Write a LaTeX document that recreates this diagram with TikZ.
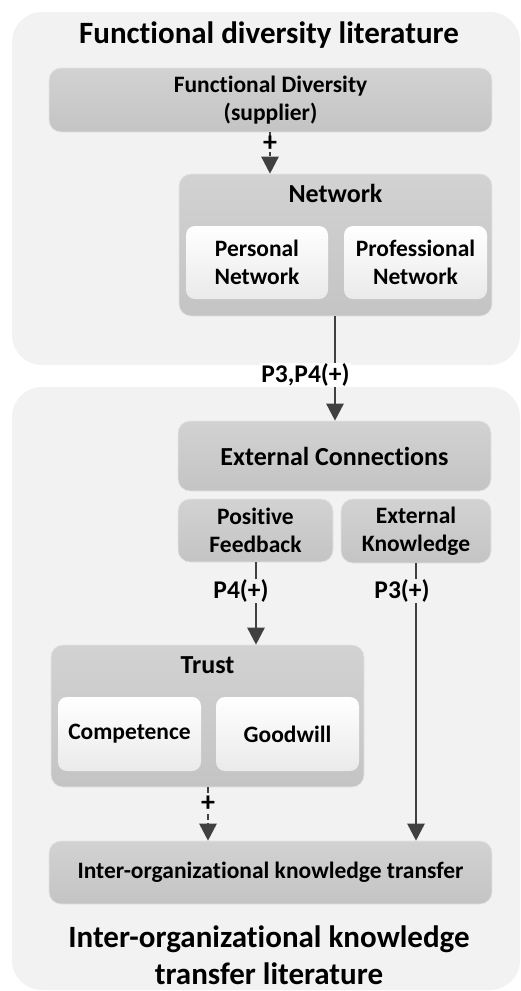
\documentclass[tikz,border=0pt]{standalone}
\usepackage{fontspec}
\setmainfont{Carlito}[Ligatures={NoCommon,NoRare,NoContextual}]
\usetikzlibrary{arrows.meta}
\definecolor{panelgray}{HTML}{F2F2F2}
\definecolor{boxtop}{HTML}{D2D2D2}
\definecolor{boxbot}{HTML}{C4C4C4}
\definecolor{innerbot}{HTML}{EAEAEA}
\definecolor{linkgray}{HTML}{404040}
\tikzset{
  panel/.style={fill=panelgray, rounded corners=30pt},
  graybox/.style={rounded corners=12pt, top color=boxtop, bottom color=boxbot,
    draw=white!40!boxtop, line width=0.6pt, inner sep=0pt, align=center},
  whitebox/.style={rounded corners=9pt, top color=white, bottom color=innerbot,
    draw=none, inner sep=0pt, align=center},
  boxtext/.style={font=\bfseries\fontsize{23.5}{28}\selectfont},
  headtext/.style={font=\bfseries\fontsize{26}{30}\selectfont},
  title/.style={align=center, font=\bfseries\fontsize{31}{37}\selectfont},
  link/.style={draw=linkgray, line width=2.5pt, -{Triangle[width=17pt,length=17pt]}},
  dashlink/.style={link, dash pattern=on 6pt off 3pt},
  plabel/.style={fill=#1, inner sep=1pt, font=\bfseries\fontsize{25.5}{28}\selectfont},
  plabel/.default=panelgray,
  plussign/.style={fill=panelgray, inner sep=0pt, font=\bfseries\fontsize{28}{28}\selectfont}
}
\begin{document}
\begin{tikzpicture}[x=1pt,y=-1pt]
\useasboundingbox (0,0) rectangle (521,991);

% literature panels
\fill[panel] (12,12) rectangle (520,365);
\fill[panel] (12,387) rectangle (520,990);
\node[title] (toptitle) at (269,35) {Functional diversity literature};
\node[title] (bottitle) at (269,955) {Inter-organizational knowledge\\transfer literature};

% functional diversity side
\node[graybox, boxtext, minimum width=443pt, minimum height=64pt] (fd) at (270.5,100)
  {Functional Diversity\\(supplier)};
\node[graybox, minimum width=313pt, minimum height=142pt] (net) at (335.5,245) {};
\node[headtext] (nettitle) at (335.5,193) {Network};
\node[whitebox, boxtext, minimum width=142pt, minimum height=73pt] (pers) at (257,262.5)
  {Personal\\Network};
\node[whitebox, boxtext, minimum width=143pt, minimum height=73pt] (prof) at (415.5,262.5)
  {Professional\\Network};

% knowledge transfer side
\node[graybox, headtext, minimum width=313pt, minimum height=70pt] (ec) at (334.5,456)
  {External Connections};
\node[graybox, boxtext, minimum width=155pt, minimum height=63pt] (pf) at (255.5,530.5)
  {Positive\\Feedback};
\node[graybox, boxtext, minimum width=150pt, minimum height=64pt] (ek) at (416,531)
  {External\\Knowledge};
\node[graybox, minimum width=313pt, minimum height=142pt] (trust) at (207.5,716) {};
\node[headtext] (trusttitle) at (207.5,665) {Trust};
\node[whitebox, boxtext, minimum width=143pt, minimum height=74pt] (comp) at (129.5,734)
  {Competence};
\node[whitebox, boxtext, minimum width=143pt, minimum height=74pt] (good) at (287.5,734)
  {Goodwill};
\node[graybox, boxtext, minimum width=443pt, minimum height=63pt] (ikt) at (270.5,872.5)
  {Inter-organizational knowledge transfer};

% relations
\draw[dashlink] (fd.south -| 270,0) -- (net.north -| 270,0);
\node[plussign] (plus1) at (270,144) {+};

\draw[link] (net.south -| 335,0) -- (ec.north -| 335,0);
\node[plabel=white] (p34) at (305.5,375) {P3,P4(+)};

\draw[link] (pf.south -| 256,0) -- (trust.north -| 256,0);
\node[plabel] (p4) at (241,591) {P4(+)};

\draw[link] (ek.south -| 416,0) -- (ikt.north -| 416,0);
\node[plabel] (p3) at (402,591) {P3(+)};

\draw[dashlink] (trust.south -| 208,0) -- (ikt.north -| 208,0);
\node[plussign] (plus2) at (208,804) {+};
\end{tikzpicture}
\end{document}
